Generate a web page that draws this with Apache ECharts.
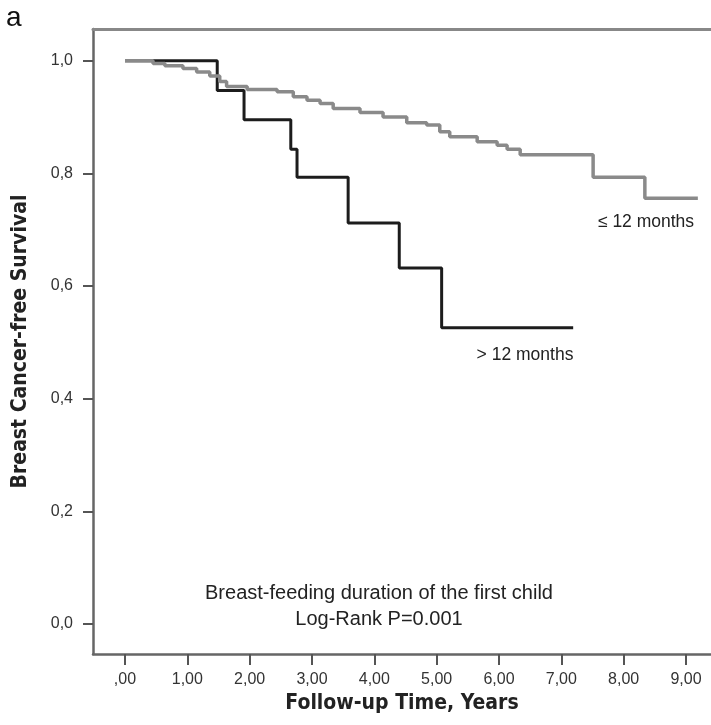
<!DOCTYPE html>
<html>
<head>
<meta charset="utf-8">
<script src="https://cdn.jsdelivr.net/npm/echarts@6/dist/echarts.min.js"></script>
<style>
  html, body { margin: 0; padding: 0; background: #fff; }
  #chart { width: 711px; height: 725px; }
</style>
</head>
<body>
<div id="chart"></div>
<script>
// > 12 months (black step curve): time where each survival level starts
const longTimes = [0, 1.48, 1.91, 2.66, 2.76, 3.58, 4.40, 5.08, 7.19];
const longSurv  = [1.0, 0.947, 0.895, 0.843, 0.793, 0.712, 0.632, 0.526, 0.526];

// <= 12 months (grey step curve)
const shortTimes = [0, 0.45, 0.64, 0.93, 1.15, 1.36, 1.52, 1.63, 1.96, 2.44, 2.70, 2.92, 3.13, 3.34,
                    3.77, 4.14, 4.52, 4.84, 5.05, 5.21, 5.65, 5.97, 6.13, 6.34, 7.51, 8.34, 9.19];
const shortSurv  = [1.0, 0.995, 0.991, 0.986, 0.980, 0.973, 0.963, 0.954, 0.949, 0.945, 0.936, 0.930, 0.924, 0.915,
                    0.908, 0.900, 0.890, 0.886, 0.874, 0.865, 0.856, 0.850, 0.843, 0.833, 0.793, 0.756, 0.756];

const xTicks = [0, 1, 2, 3, 4, 5, 6, 7, 8, 9];
const yTicks = [0, 0.2, 0.4, 0.6, 0.8, 1.0];

const zip = (xs, ys) => xs.map((x, i) => [x, ys[i]]);
const comma = (v, d) => {
    let s = v.toFixed(d).replace('.', ',');
    if (s.startsWith('0,') && d === 2) s = s.slice(1);
    return s;
};

const axisColor = '#666';
const sans = 'Liberation Sans, Arial, sans-serif';
const labelFont = { color: '#333', fontSize: 16, fontFamily: sans };
const nameFont = { color: '#222', fontSize: 21, fontWeight: 'bold', fontFamily: "'DejaVu Sans Condensed', 'DejaVu Sans', sans-serif" };

const option = {
    animation: false,
    grid: { left: 93, top: 29, right: 0, bottom: 71 },
    xAxis: [
        {
            type: 'value',
            min: -0.513,
            max: 9.401,
            name: 'Follow-up Time, Years',
            nameLocation: 'middle',
            nameGap: 30,
            nameTextStyle: nameFont,
            splitLine: { show: false },
            axisLine: { onZero: false, lineStyle: { color: axisColor, width: 2.5 } },
            axisTick: { customValues: xTicks, length: 11, lineStyle: { color: '#555', width: 2 } },
            axisLabel: Object.assign({ customValues: xTicks, margin: 18, formatter: v => comma(v, 2) }, labelFont)
        },
        {
            type: 'value',
            position: 'top',
            min: -0.513,
            max: 9.401,
            splitLine: { show: false },
            axisLine: { onZero: false, lineStyle: { color: '#888', width: 3 } },
            axisTick: { show: false },
            axisLabel: { show: false }
        }
    ],
    yAxis: {
        type: 'value',
        min: -0.0533,
        max: 1.0563,
        name: 'Breast Cancer-free Survival',
        nameLocation: 'middle',
        nameGap: 62,
        nameRotate: 90,
        nameTextStyle: nameFont,
        splitLine: { show: false },
        axisLine: { onZero: false, lineStyle: { color: axisColor, width: 2.5 } },
        axisTick: { customValues: yTicks, length: 10, lineStyle: { color: '#555', width: 2 } },
        axisLabel: Object.assign({ customValues: yTicks, margin: 20, formatter: v => comma(v, 1) }, labelFont)
    },
    series: [
        {
            name: '> 12 months',
            type: 'line',
            step: 'end',
            symbol: 'none',
            z: 2,
            lineStyle: { color: '#1c1c1c', width: 3 },
            data: zip(longTimes, longSurv)
        },
        {
            name: '≤ 12 months',
            type: 'line',
            step: 'end',
            symbol: 'none',
            z: 3,
            lineStyle: { color: '#8a8a8a', width: 3.5 },
            data: zip(shortTimes, shortSurv)
        }
    ],
    graphic: [
        { type: 'text', left: 6, top: 4, style: { text: 'a', fontSize: 28, fill: '#111', fontFamily: sans } },
        { type: 'text', x: 646, y: 222, style: { text: '≤ 12 months', fontSize: 17.5, fill: '#222', align: 'center', verticalAlign: 'middle', fontFamily: sans } },
        { type: 'text', x: 525, y: 355, style: { text: '> 12 months', fontSize: 17.5, fill: '#222', align: 'center', verticalAlign: 'middle', fontFamily: sans } },
        { type: 'text', x: 379, y: 593, style: { text: 'Breast-feeding duration of the first child', fontSize: 20, fill: '#222', align: 'center', verticalAlign: 'middle', fontFamily: sans } },
        { type: 'text', x: 379, y: 619, style: { text: 'Log-Rank P=0.001', fontSize: 20, fill: '#222', align: 'center', verticalAlign: 'middle', fontFamily: sans } }
    ]
};

const myChart = echarts.init(document.getElementById('chart'));
myChart.setOption(option);
</script>
</body>
</html>
